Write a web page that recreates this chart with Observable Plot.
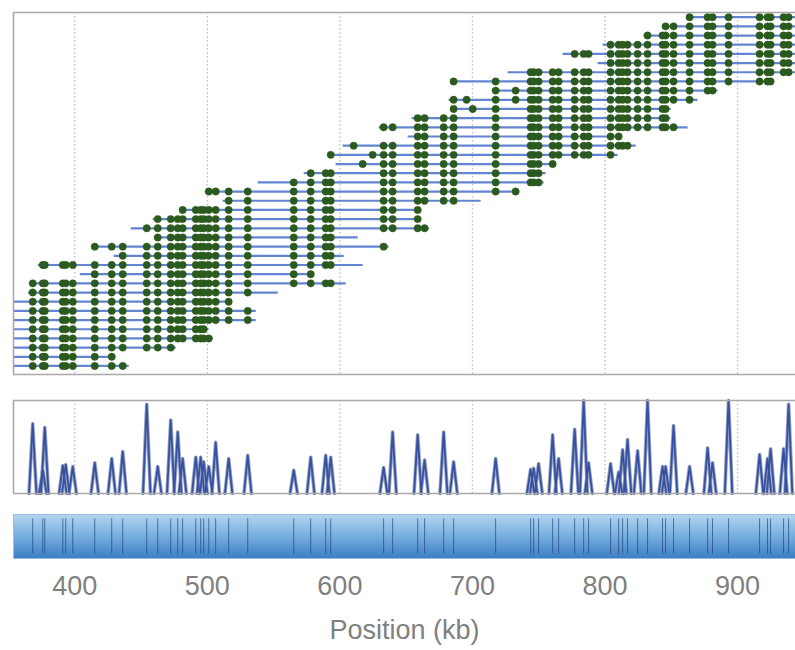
<!DOCTYPE html>
<html><head><meta charset="utf-8">
<script src="https://cdn.jsdelivr.net/npm/d3@7"></script>
<script src="https://cdn.jsdelivr.net/npm/@observablehq/plot@0.6"></script>
<style>
body{margin:0;background:#fff;}
#chart{width:795px;height:650px;overflow:hidden;}
#chart svg{display:block;}
</style></head><body><div id="chart"></div>
<script>
// Label sites (kb) and their density peak heights (relative)
const sitePos = [368.3, 375.9, 377.4, 391.0, 393.2, 398.5, 415.1, 427.9, 436.2, 454.3, 462.6, 472.4, 477.7, 481.4, 491.3, 495.0, 497.3, 501.1, 506.3, 516.1, 530.5, 565.2, 578.0, 589.3, 593.1, 633.0, 639.8, 658.7, 663.9, 678.3, 685.8, 717.5, 743.9, 746.2, 749.9, 760.5, 765.0, 777.1, 783.9, 787.6, 804.2, 810.3, 813.3, 817.0, 824.6, 832.1, 843.4, 845.7, 851.7, 863.8, 877.4, 881.1, 893.2, 916.6, 922.6, 924.9, 934.7, 938.5];
const siteHeight = [0.75, 0.25, 0.71, 0.30, 0.31, 0.29, 0.33, 0.375, 0.45, 0.96, 0.29, 0.79, 0.66, 0.375, 0.39, 0.39, 0.34, 0.29, 0.55, 0.375, 0.41, 0.25, 0.39, 0.41, 0.39, 0.28, 0.66, 0.63, 0.36, 0.66, 0.34, 0.375, 0.26, 0.27, 0.32, 0.63, 0.375, 0.69, 1.0, 0.33, 0.32, 0.23, 0.47, 0.58, 0.46, 1.0, 0.29, 0.29, 0.73, 0.29, 0.49, 0.33, 1.0, 0.42, 0.375, 0.48, 0.48, 0.96];

// Molecules (rows, top = 0), their start and end (kb)
const readRow = [0,1,2,3,4,5,6,7,8,9,10,11,12,13,14,15,16,17,18,19,20,21,22,23,24,25,26,27,28,29,30,31,32,33,34,35,36,37,38];
const readStart = [862.3, 844.2, 829.1, 798.2, 768.0, 794.4, 726.5, 683.6, 716.0, 682.0, 684.3, 654.1, 629.3, 651.1, 602.1, 592.3, 596.8, 572.7, 538.0, 498.8, 511.6, 481.4, 458.8, 442.2, 460.3, 413.6, 429.4, 372.1, 403.8, 366.8, 364.6, 345, 345, 345, 345, 345, 345, 345, 345];
const readEnd = [960, 960, 960, 960, 960, 960, 960, 924.9, 884.9, 869.8, 849.5, 849.5, 862.3, 811.8, 823.1, 809.5, 760.5, 755.2, 753.7, 732.6, 706.2, 660.9, 659.4, 667.0, 613.4, 636.8, 602.9, 617.2, 579.5, 604.4, 553.1, 517.6, 536.5, 536.5, 501.0, 504.1, 476.2, 428.7, 440.7];

// Extra (unmatched) labels on some molecules
const extraRow = [8, 9, 9, 10, 14, 15, 16, 19];
const extraPos = [732.6, 695.6, 732.6, 700.2, 610.4, 624.7, 617.2, 732.6];

const tickValues = [400, 500, 600, 700, 800, 900];
const xDomain = [353.8, 943.7];
const W = 795;
const peakHalfWidth = 2.8;

const reads = readRow.map((k, i) => ({k, start: readStart[i], end: readEnd[i]}));
const dots = [];
reads.forEach(r => sitePos.forEach(s => { if (s >= r.start && s <= r.end) dots.push({k: r.k, x: s}); }));
extraRow.forEach((k, i) => dots.push({k, x: extraPos[i]}));

const peakPts = sitePos.flatMap((s, i) => [
  {x: s - peakHalfWidth, y: 0, i}, {x: s, y: siteHeight[i], i}, {x: s + peakHalfWidth, y: 0, i}
]);

const font = "'Liberation Sans', Arial, sans-serif";
const gridStyle = {stroke: "#bdbdbd", strokeDasharray: "1.5,2.5", strokeWidth: 1.3};
const borderColor = "#a8a8a8";

const yTop = [38.93, -0.51];
const topPlot = Plot.plot({
  width: W, height: 380, marginTop: 12, marginBottom: 6, marginLeft: 13, marginRight: 0,
  style: {fontFamily: font, background: "transparent"},
  x: {domain: xDomain, axis: null},
  y: {domain: yTop, axis: null},
  marks: [
    Plot.ruleX(tickValues, gridStyle),
    Plot.link(reads, {x1: "start", x2: "end", y1: "k", y2: "k", stroke: "#6384d2", strokeWidth: 2.2, clip: true}),
    Plot.dot(dots, {x: "x", y: "k", r: 3.7, fill: "#2b5a1e", stroke: "#2b5a1e", strokeWidth: 0.4, clip: true}),
    Plot.ruleY(yTop, {stroke: borderColor, strokeWidth: 1.6}),
    Plot.ruleX([xDomain[0]], {stroke: borderColor, strokeWidth: 1.6})
  ]
});

const midPlot = Plot.plot({
  width: W, height: 120, marginTop: 20, marginBottom: 7, marginLeft: 13, marginRight: 0,
  style: {fontFamily: font, background: "transparent"},
  x: {domain: xDomain, axis: null},
  y: {domain: [0, 1], axis: null},
  marks: [
    Plot.ruleX(tickValues, gridStyle),
    Plot.line(peakPts, {x: "x", y: "y", z: "i", stroke: "#98a2bf", strokeWidth: 3.6, strokeLinejoin: "round"}),
    Plot.line(peakPts, {x: "x", y: "y", z: "i", stroke: "#3451a3", strokeWidth: 1.8, strokeLinejoin: "round"}),
    Plot.ruleY([0, 1], {stroke: borderColor, strokeWidth: 1.6}),
    Plot.ruleX([xDomain[0]], {stroke: borderColor, strokeWidth: 1.6})
  ]
});

const botPlot = Plot.plot({
  width: W, height: 150, marginTop: 14, marginBottom: 92, marginLeft: 13, marginRight: 0,
  style: {fontFamily: font, fontSize: "27px", color: "#808080", background: "transparent"},
  x: {domain: xDomain},
  y: {domain: [0, 1], axis: null},
  marks: [
    Plot.frame({fill: "url(#bandGrad)", stroke: "#9cbde0", strokeWidth: 1}),
    Plot.ruleX(sitePos, {y1: 0.1, y2: 0.9, stroke: "#24477f", strokeWidth: 1, strokeOpacity: 0.7}),
    Plot.axisX(tickValues, {tickSize: 0, tickPadding: 17, fontSize: 27, fill: "#808080",
      label: "Position (kb)", labelAnchor: "center", labelOffset: 80, labelArrow: "none"})
  ]
});

const defs = d3.select(botPlot).insert("defs", ":first-child");
const grad = defs.append("linearGradient").attr("id", "bandGrad")
  .attr("x1", 0).attr("y1", 0).attr("x2", 0).attr("y2", 1);
grad.append("stop").attr("offset", "0%").attr("stop-color", "#b2d5f0");
grad.append("stop").attr("offset", "55%").attr("stop-color", "#70a9dc");
grad.append("stop").attr("offset", "100%").attr("stop-color", "#3a7dc3");

const chart = document.getElementById("chart");
chart.append(topPlot, midPlot, botPlot);
</script>
</body></html>
